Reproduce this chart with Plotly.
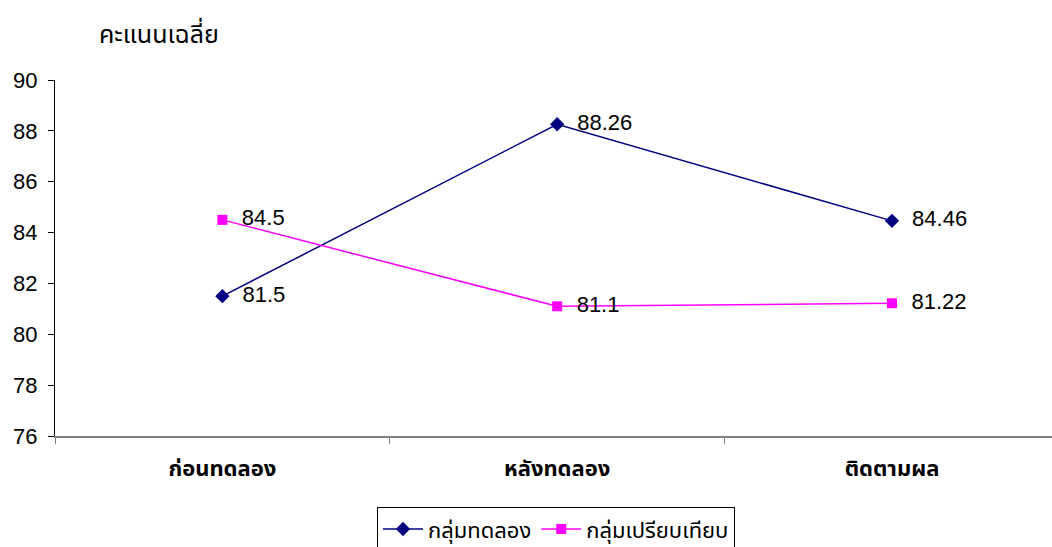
import plotly.graph_objects as go

categories = ["ก่อนทดลอง", "หลังทดลอง", "ติดตามผล"]
experimental = [81.5, 88.26, 84.46]
comparison = [84.5, 81.1, 81.22]
experimental_labels = ["81.5", "88.26", "84.46"]
comparison_labels = ["84.5", "81.1", "81.22"]
y_ticks = [76, 78, 80, 82, 84, 86, 88, 90]

NUM_FONT = "Arial, Liberation Sans, sans-serif"
THAI_FONT = "Tahoma, 'Noto Sans Thai', 'Noto Sans', sans-serif"
PAD = "\u00a0\u00a0"

fig = go.Figure()
fig.add_trace(go.Scatter(
    x=categories, y=experimental, mode="lines+markers+text",
    name="กลุ่มทดลอง", text=[PAD + t for t in experimental_labels],
    textposition="middle right",
    textfont=dict(family=NUM_FONT, size=22, color="black"),
    line=dict(color="#000080", width=1.5),
    marker=dict(symbol="diamond", size=11, color="#000080"),
))
fig.add_trace(go.Scatter(
    x=categories, y=comparison, mode="lines+markers+text",
    name="กลุ่มเปรียบเทียบ", text=[PAD + t for t in comparison_labels],
    textposition="middle right",
    textfont=dict(family=NUM_FONT, size=22, color="black"),
    line=dict(color="#FF00FF", width=1.5),
    marker=dict(symbol="square", size=10, color="#FF00FF"),
))

fig.update_layout(
    width=1052, height=547,
    margin=dict(l=55, r=0, t=80, b=111, autoexpand=False),
    paper_bgcolor="white", plot_bgcolor="white",
    showlegend=True,
    legend=dict(
        orientation="h", x=0.5025, xanchor="center", y=-0.2, yanchor="top",
        bordercolor="black", borderwidth=1, bgcolor="white",
        font=dict(family=THAI_FONT, size=22, color="black"),
        itemwidth=40, tracegroupgap=0,
    ),
    xaxis=dict(
        type="category", range=[-0.5, 2.478],
        showline=True, linecolor="#808080", linewidth=2,
        ticks="outside", tickson="boundaries", ticklen=6, tickcolor="#808080",
        showgrid=False, zeroline=False,
        tickvals=categories, ticktext=["<b>" + c + "</b>" for c in categories],
        tickfont=dict(family=THAI_FONT, size=22, color="black"),
        ticklabelstandoff=12,
    ),
    yaxis=dict(
        range=[76, 90], tickvals=y_ticks,
        showline=True, linecolor="black", linewidth=1,
        ticks="outside", ticklen=6, tickcolor="black",
        showgrid=False, zeroline=False,
        tickfont=dict(family=NUM_FONT, size=22, color="black"),
        ticklabelstandoff=6,
    ),
    annotations=[dict(
        text="คะแนนเฉลี่ย", xref="paper", yref="paper",
        x=(97 - 55) / 997, y=1 + (80 - 35) / 356, xanchor="left", yanchor="middle",
        showarrow=False, font=dict(family=THAI_FONT, size=25, color="black"),
    )],
)

fig.write_html(
    "out.html",
    config={"displayModeBar": False},
    post_script="document.body.style.margin='0';document.body.style.overflow='hidden';",
)
